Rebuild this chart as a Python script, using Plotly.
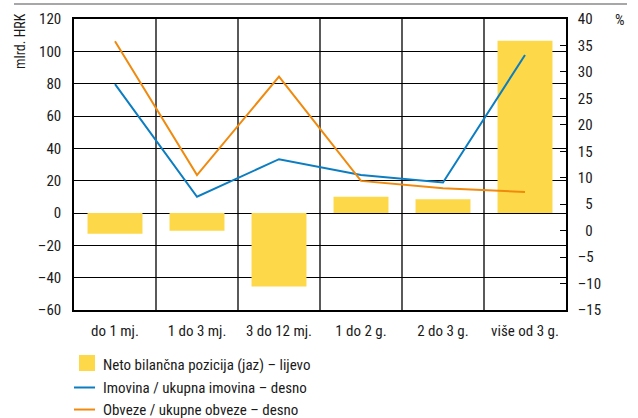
import plotly.graph_objects as go

categories = ["do 1 mj.", "1 do 3 mj.", "3 do 12 mj.", "1 do 2 g.", "2 do 3 g.", "više od 3 g."]
gap_values = [-12.8, -11.0, -45.5, 10.0, 8.5, 106.5]
assets_pct = [27.7, 6.4, 13.5, 10.5, 9.1, 33.2]
liab_pct = [35.8, 10.5, 29.1, 9.4, 8.0, 7.3]
left_ticks = [-60, -40, -20, 0, 20, 40, 60, 80, 100, 120]
left_labels = ["–60", "–40", "–20", "0", "20", "40", "60", "80", "100", "120"]
right_ticks = [-15, -10, -5, 0, 5, 10, 15, 20, 25, 30, 35, 40]
right_labels = ["–15", "–10", "–5", "\u20070", "\u20075", "10", "15", "20", "25", "30", "35", "40"]
legend_names = ["Neto bilančna pozicija (jaz) – lijevo",
                "Imovina / ukupna imovina – desno",
                "Obveze / ukupne obveze – desno"]

FONT = "Liberation Sans Narrow, Roboto Condensed, Roboto, Arial, sans-serif"
YELLOW = "#FDD848"
BLUE = "#0C7DC1"
ORANGE = "#EF8A0E"

fig = go.Figure()
fig.add_trace(go.Bar(x=categories, y=gap_values, name=legend_names[0],
                     marker=dict(color=YELLOW, line=dict(width=0)), width=0.67, yaxis="y"))
fig.add_trace(go.Scatter(x=categories, y=assets_pct, name=legend_names[1],
                         mode="lines", line=dict(color=BLUE, width=2), yaxis="y2"))
fig.add_trace(go.Scatter(x=categories, y=liab_pct, name=legend_names[2],
                         mode="lines", line=dict(color=ORANGE, width=2), yaxis="y2"))

shapes = []
for i in range(len(categories) - 1):
    shapes.append(dict(type="line", xref="x", yref="paper", x0=i + 0.5, x1=i + 0.5, y0=0, y1=1,
                       line=dict(color="black", width=1.3), layer="below"))
# top rule
shapes.append(dict(type="line", xref="paper", yref="paper", x0=-0.122, x1=1.124, y0=1.0515, y1=1.0515,
                   line=dict(color="#8a8a8a", width=1.5)))
# legend keys
shapes.append(dict(type="rect", xref="paper", yref="paper", x0=0.0102, x1=0.0427, y0=-0.2096, y1=-0.1546,
                   fillcolor=YELLOW, line=dict(width=0)))
shapes.append(dict(type="line", xref="paper", yref="paper", x0=0.0, x1=0.0427, y0=-0.2663, y1=-0.2663,
                   line=dict(color=BLUE, width=2)))
shapes.append(dict(type="line", xref="paper", yref="paper", x0=0.0, x1=0.0427, y0=-0.342, y1=-0.342,
                   line=dict(color=ORANGE, width=2)))

annotations = [
    dict(text="mlrd. HRK", xref="paper", yref="paper", x=-0.1098, y=0.924, xanchor="center",
         yanchor="middle", textangle=-90, showarrow=False, font=dict(size=14)),
    dict(text="%", xref="paper", yref="paper", x=1.1098, y=0.997, xanchor="center", yanchor="middle",
         showarrow=False, font=dict(size=15)),
]
for name, yy in zip(legend_names, [-0.189, -0.268, -0.344]):
    annotations.append(dict(text=name, xref="paper", yref="paper", x=0.0549, y=yy, xanchor="left",
                            yanchor="middle", showarrow=False, font=dict(size=15)))

fig.update_layout(
    width=638, height=418,
    margin=dict(l=74, r=72, t=19, b=108, autoexpand=False),
    paper_bgcolor="white", plot_bgcolor="white",
    font=dict(family=FONT, size=15, color="#1a1a1a"),
    showlegend=False,
    bargap=0.33,
    xaxis=dict(type="category", showgrid=False, showline=True, linecolor="black", linewidth=1.5,
               mirror=True, ticks="", tickfont=dict(size=15), range=[-0.5, 5.5], ticklabelstandoff=6),
    yaxis=dict(range=[-60, 120], tickvals=left_ticks, ticktext=left_labels, showgrid=True,
               gridcolor="black", gridwidth=1.3, zeroline=False, showline=True, linecolor="black",
               linewidth=1.5, ticks="", ticklabelstandoff=8, tickfont=dict(size=15)),
    yaxis2=dict(range=[-15, 40], overlaying="y", side="right", tickvals=right_ticks, ticktext=right_labels,
                showgrid=False, zeroline=False, showline=True, linecolor="black", linewidth=1.5,
                ticks="inside", ticklen=6, tickcolor="black", tickwidth=1.2, ticklabelstandoff=7,
                tickfont=dict(size=15)),
    shapes=shapes,
    annotations=annotations,
)

fig.write_html("out.html", config={"displayModeBar": False},
               post_script="document.body.style.margin='0';")
